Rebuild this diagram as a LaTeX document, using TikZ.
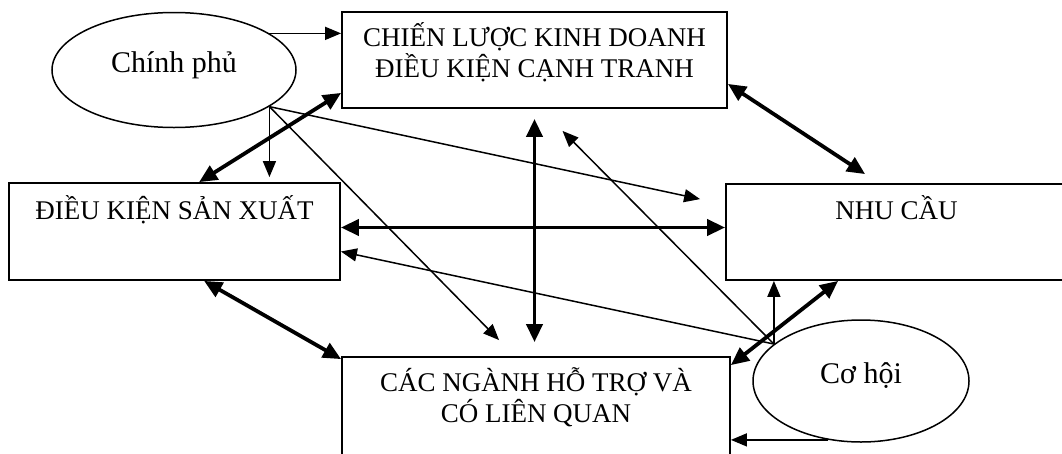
\documentclass[tikz,border=0pt]{standalone}
\usepackage{fontspec}
\setmainfont{Liberation Serif}
\usetikzlibrary{arrows.meta,shapes.geometric}

\begin{document}
\begin{tikzpicture}[x=1pt,y=-1pt,
            box/.style={draw,line width=1.8pt,inner sep=0pt},
            boxtext/.style={font=\fontsize{27}{31}\selectfont,align=center,
                anchor=north,inner sep=0pt,text height=19pt},
            twolines/.style={text height=50pt},
            oval/.style={draw,ellipse,line width=1.5pt,inner sep=0pt,
                font=\fontsize{30}{36}\selectfont,text height=22pt,text depth=18pt},
            thinarrow/.style={line width=1.5pt,-{Triangle[length=16pt,width=13pt]}},
            thickarrow/.style={line width=3.8pt,
                {Triangle[length=18pt,width=16pt]}-{Triangle[length=18pt,width=16pt]}}]
            \path[use as bounding box,clip] (0,0) rectangle (1062,453);

            \node[box,minimum width=385pt,minimum height=96pt] (cl) at (534.5,60) {};
            \node[boxtext,twolines] (cltext) at ([yshift=-16pt]cl.north)
                {CHIẾN LƯỢC KINH DOANH\\ĐIỀU KIỆN CẠNH TRANH};
            \node[box,minimum width=331pt,minimum height=97pt] (dk) at (174.5,231.5) {};
            \node[boxtext] (dktext) at ([yshift=-18pt]dk.north) {ĐIỀU KIỆN SẢN XUẤT};
            \node[box,minimum width=341pt,minimum height=96pt] (nc) at (896.5,232) {};
            \node[boxtext] (nctext) at ([yshift=-17pt]nc.north) {NHU CẦU};
            \node[box,minimum width=388pt,minimum height=113pt] (cn) at (536,413.5) {};
            \node[boxtext,twolines] (cntext) at ([yshift=-16pt]cn.north)
                {CÁC NGÀNH HỖ TRỢ VÀ\\CÓ LIÊN QUAN};

            \node[oval,minimum width=244pt,minimum height=115pt] (cp) at (174,70) {Chính phủ};
            \node[oval,minimum width=216pt,minimum height=122pt] (ch) at (861,381) {Cơ hội};

            \draw[thickarrow] ([xshift=191pt]dk.north west) -- ([yshift=16pt]cl.south west);
            \draw[thickarrow] ([yshift=25pt]cl.south east) -- ([xshift=140pt,yshift=9pt]nc.north west);
            \draw[thickarrow] ([yshift=4pt]dk.east) -- ([yshift=4pt]dk.east -| nc.west);
            \draw[thickarrow,shorten <=10pt,shorten >=14pt] (cl.south) -- (cl.south |- cn.north);
            \draw[thickarrow] ([xshift=196pt]dk.south west) -- ([yshift=-3pt]cn.north west);
            \draw[thickarrow] ([xshift=113pt]nc.south west) -- ([yshift=-9pt]cn.north east);

            \draw[thinarrow] (cp.21) -- (cp.21 -| cl.west);
            \draw[thinarrow,shorten >=5pt] (cp.-21) -- (cp.-21 |- dk.north);
            \draw[thinarrow] (cp.-21) -- ([xshift=-25pt,yshift=-16pt]nc.north west);
            \draw[thinarrow] (cp.-21) -- ([xshift=158pt,yshift=16pt]cn.north west);

            \draw[thinarrow] (ch.157) -- ([xshift=28pt,yshift=-22pt]cl.south);
            \draw[thinarrow] (ch.157) -- ([yshift=-20pt]dk.east);
            \draw[thinarrow] (ch.157) -- (ch.157 |- nc.south);
            \draw[thinarrow] (ch.-119) -- (ch.-119 -| cn.east);
\end{tikzpicture}
\end{document}
